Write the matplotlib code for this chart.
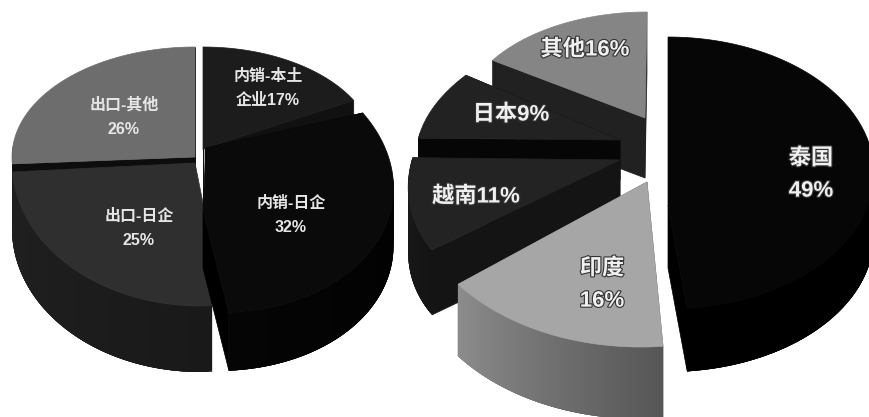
import matplotlib

matplotlib.use('Agg')
import matplotlib.pyplot as plt
import matplotlib.patheffects as pe
import numpy as np

plt.rcParams['font.family'] = ['Liberation Sans', 'Noto Sans CJK SC', 'DejaVu Sans']

# Sales split (left pie) and export destinations (right pie)
sales_names = ['内销-本土\n企业', '内销-日企\n', '出口-日企\n', '出口-其他\n']
sales_values = [17, 32, 25, 26]
export_names = ['泰国\n', '印度\n', '越南', '日本', '其他']
export_values = [49, 16, 11, 9, 16]

# Each wedge: centre x, centre y, x radius, y radius, skew, depth, start tip, end tip
sales_shape = [
    (203, 150, 172, 103, 0, 60, (203, 150), (205, 148)),
    (203, 178, 190, 135, 14, 58, (206, 148), (203, 210)),
    (200, 163, 188, 143, 0, 66, (203, 203), (195, 163)),
    (195, 157, 183, 110, 0, 60, (195, 157), (195, 157)),
]
export_shape = [
    (668, 173, 206, 136, 0, 63, (668, 173), (668, 205)),
    (647, 182, 236, 165, -6, 72, (647, 182), (647, 182)),
    (620, 160, 208, 145, -40, 65, (620, 160), (620, 160)),
    (620, 140, 202, 119, -28, 40, (620, 140), (620, 140)),
    (645, 118, 183, 106, -2, 60, (645, 118), (645, 118)),
]

# top face, cut face, side colour at start and end of the arc
sales_colors = [
    ('#1c1c1c', '#111111', '#0c0c0c', '#0c0c0c'),
    ('#0a0a0a', '#000000', '#000000', '#050505'),
    ('#2f2f2f', '#111111', '#191919', '#202020'),
    ('#6d6d6d', '#0d0d0d', '#111111', '#111111'),
]
export_colors = [
    ('#060606', '#000000', '#000000', '#000000'),
    ('#a6a6a6', '#555555', '#565656', '#8c8c8c'),
    ('#232323', '#141414', '#141414', '#1a1a1a'),
    ('#222222', '#060606', '#060606', '#060606'),
    ('#858585', '#212121', '#212121', '#212121'),
]

sales_text_pos = [(268, 88), (291, 215), (139, 228), (124, 117)]
export_text_pos = [(811, 175), (602, 285), (476, 197), (511, 115), (585, 50)]


def rim(shape, theta):
    cx, cy, rx, ry, skew = shape[:5]
    return cx + rx * np.sin(theta) - skew * np.cos(theta), cy - ry * np.cos(theta)


def hex_mix(a, b, t):
    a = np.array(matplotlib.colors.to_rgb(a))
    b = np.array(matplotlib.colors.to_rgb(b))
    return a + (b - a) * t


def draw_wedge(ax, shape, colors, start, end):
    depth, tip_a, tip_b = shape[5:]
    top, cut, side_a, side_b = colors
    theta = np.linspace(start, end, 120)
    x, y = rim(shape, theta)

    # cut faces first, the top face then hides what it should
    for tip, i in ((tip_a, 0), (tip_b, -1)):
        ax.fill([tip[0], x[i], x[i], tip[0]],
                [tip[1], y[i], y[i] + depth, tip[1] + depth],
                color=cut, lw=0.5)

    # curved side, only the part that faces front; strips overlap to hide seams
    for i in range(len(theta) - 1):
        if np.cos(theta[i]) > 0.05:
            continue
        j = min(i + 4, len(theta) - 1)
        c = hex_mix(side_a, side_b, i / (len(theta) - 2))
        ax.fill([x[i], x[j], x[j], x[i]],
                [y[i], y[j], y[j] + depth, y[i] + depth],
                color=c, lw=0)

    ax.fill(np.r_[tip_a[0], x, tip_b[0]], np.r_[tip_a[1], y, tip_b[1]], color=top, lw=0.5)


def draw_pie(ax, values, shapes, colors, order):
    edges = 2 * np.pi * np.cumsum([0] + values) / sum(values)
    for i in order:
        draw_wedge(ax, shapes[i], colors[i], edges[i], edges[i + 1])


fig = plt.figure(figsize=(8.7, 4.17), dpi=100)
ax = fig.add_axes([0, 0, 1, 1])
ax.set_xlim(0, 870)
ax.set_ylim(417, 0)
ax.axis('off')

draw_pie(ax, sales_values, sales_shape, sales_colors, [3, 0, 2, 1])
draw_pie(ax, export_values, export_shape, export_colors, [4, 3, 2, 1, 0])

for name, value, pos in zip(sales_names, sales_values, sales_text_pos):
    ax.text(pos[0], pos[1], f'{name}{value}%', color='#e6e6e6', fontsize=11.5,
            fontweight='bold', ha='center', va='center', linespacing=1.75)

shadow = [pe.withStroke(linewidth=1.6, foreground='#333333')]
for name, value, pos in zip(export_names, export_values, export_text_pos):
    ax.text(pos[0], pos[1], f'{name}{value}%', color='#f0f0f0', fontsize=16,
            fontweight='bold', ha='center', va='center', linespacing=1.7,
            path_effects=shadow)

plt.savefig('out.png', dpi=100)
